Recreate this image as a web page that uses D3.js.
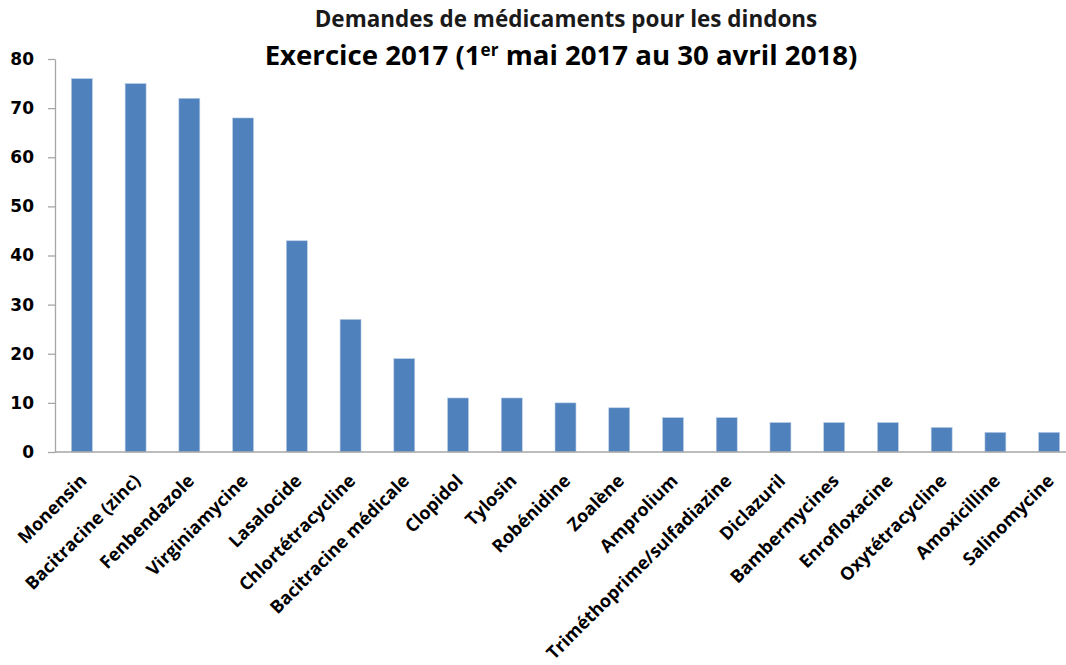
<!DOCTYPE html>
<html>
<head>
<meta charset="utf-8">
<script src="https://cdn.jsdelivr.net/npm/d3@7"></script>
<style>
  body { margin: 0; background: #fff; overflow: hidden; }
  .axis path, .axis line { stroke: #a6a6a6; stroke-width: 1.3; }
  .axis text { font-family: "Open Sans", sans-serif; font-weight: bold; fill: #000; }
</style>
</head>
<body>
<div id="chart"></div>
<script>
// data
var drugs = ["Monensin", "Bacitracine (zinc)", "Fenbendazole", "Virginiamycine", "Lasalocide",
  "Chlortétracycline", "Bacitracine médicale", "Clopidol", "Tylosin", "Robénidine", "Zoalène",
  "Amprolium", "Triméthoprime/sulfadiazine", "Diclazuril", "Bambermycines", "Enrofloxacine",
  "Oxytétracycline", "Amoxicilline", "Salinomycine"];
var requests = [76, 75, 72, 68, 43, 27, 19, 11, 11, 10, 9, 7, 7, 6, 6, 6, 5, 4, 4];
var yTicks = [0, 10, 20, 30, 40, 50, 60, 70, 80];

var w = 1066, h = 665;
// the plot runs a bit past the right edge, like the original (cropped) chart
var mLeft = 55, mRight = 1076, mTop = 59, mBottom = 452;

var svg = d3.select("#chart").append("svg")
  .attr("width", w)
  .attr("height", h);

var xScale = d3.scaleBand()
  .domain(drugs)
  .range([mLeft, mRight])
  .paddingInner(0.61)
  .paddingOuter(0.305);

var yScale = d3.scaleLinear()
  .domain([0, 80])
  .range([mBottom, mTop]);

// title, sized to fit the widths of the original
function fitText(sel, target) {
  var len = sel.node().getComputedTextLength();
  var fs = parseFloat(sel.attr("font-size"));
  sel.attr("font-size", (fs * target / len) + "px");
}

var title1 = svg.append("text")
  .attr("x", 566).attr("y", 27)
  .attr("text-anchor", "middle")
  .attr("font-family", "'Open Sans', sans-serif")
  .attr("font-weight", "bold")
  .attr("font-size", "20px")
  .attr("fill", "#1a1a1a")
  .text("Demandes de médicaments pour les dindons");
fitText(title1, 503);

var title2 = svg.append("text")
  .attr("x", 561).attr("y", 65)
  .attr("text-anchor", "middle")
  .attr("font-family", "'Open Sans', sans-serif")
  .attr("font-weight", "bold")
  .attr("font-size", "26px")
  .attr("fill", "#000");
title2.append("tspan").text("Exercice 2017 (1");
title2.append("tspan").attr("font-size", "0.62em").attr("dy", "-0.55em").text("er");
title2.append("tspan").attr("dy", "0.34em").text(" mai 2017 au 30 avril 2018)");
fitText(title2, 593);

// bars
svg.selectAll(".bar")
  .data(requests)
  .enter()
  .append("rect")
  .attr("class", "bar")
  .attr("x", function(d, i) { return xScale(drugs[i]); })
  .attr("width", xScale.bandwidth())
  .attr("y", function(d) { return yScale(d); })
  .attr("height", function(d) { return mBottom - yScale(d); })
  .attr("fill", "#4f81bd")
  .attr("stroke", "#b9cde5")
  .attr("stroke-width", 0.6);

// y axis
var yAxis = svg.append("g")
  .attr("class", "axis")
  .attr("transform", "translate(" + mLeft + ",0)")
  .call(d3.axisLeft(yScale).tickValues(yTicks).tickSize(7).tickSizeOuter(0).tickPadding(14));
yAxis.selectAll("text")
  .style("font-family", "'DejaVu Sans', sans-serif")
  .attr("font-size", "17px");

// x axis
var xAxis = svg.append("g")
  .attr("class", "axis")
  .attr("transform", "translate(0," + mBottom + ")")
  .call(d3.axisBottom(xScale).tickSize(0).tickSizeOuter(0));
xAxis.select(".domain").attr("d", "M" + mLeft + ",0H" + w);
xAxis.selectAll("text")
  .attr("font-size", "18px")
  .attr("text-anchor", "end")
  .attr("transform", "translate(6,30) rotate(-45)")
  .attr("dy", 0)
  .attr("y", 0);
</script>
</body>
</html>
